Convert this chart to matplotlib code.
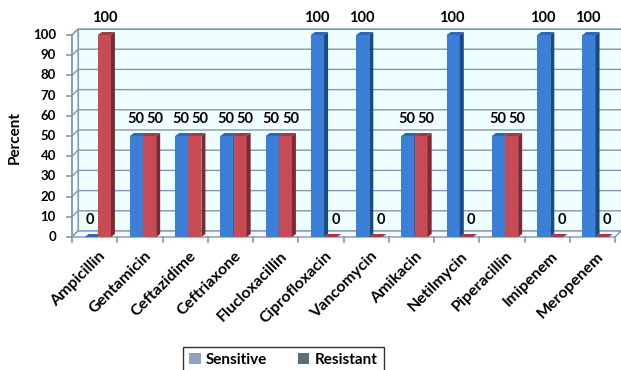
import matplotlib
matplotlib.use("Agg")

import matplotlib.pyplot as plt
from matplotlib.lines import Line2D
from matplotlib.patches import Patch, Polygon, Rectangle
from matplotlib.transforms import IdentityTransform, offset_copy


DRUGS = [
    "Ampicillin", "Gentamicin", "Ceftazidime", "Ceftriaxone",
    "Flucloxacillin", "Ciprofloxacin", "Vancomycin", "Amikacin",
    "Netilmycin", "Piperacillin", "Imipenem", "Meropenem",
]
SENSITIVE = [0, 50, 50, 50, 50, 100, 100, 50, 100, 50, 100, 100]
RESISTANT = [100, 50, 50, 50, 50, 0, 0, 50, 0, 50, 0, 0]
Y_TICKS = list(range(0, 101, 10))

W, H, DPI = 621, 370, 100

# depth of the chart box and of each bar, in pixels
WALL_DX, WALL_DY = 6, 6
BAR_DX, BAR_DY = 4, 3
BAR_W = 0.29
SHIFT = 0.07

GRID = "#8497B0"
WALL = "#EFFEFF"
FLOOR = "#F6F9FC"
BLUE = ("#3C7FD6", "#184A86", "#2E67B5")   # front, side, top
RED = ("#C64B55", "#7B2A32", "#A03B44")

FONT = ["Lato", "DejaVu Sans"]


def main():
    fig = plt.figure(figsize=(W / DPI, H / DPI), dpi=DPI)
    ax = fig.add_axes([72 / W, (H - 237) / H, 543 / W, 202 / H])
    n = len(DRUGS)
    x_lo, x_hi = -0.5, n - 0.5
    ax.set_xlim(x_lo, x_hi)
    ax.set_ylim(0, 100)
    ax.axis("off")

    px = IdentityTransform()

    def front(x, y):
        return ax.transData.transform((x, y))

    def back(x, y, dx=WALL_DX, dy=WALL_DY):
        fx, fy = front(x, y)
        return fx + dx, fy + dy

    # back wall, left wall and floor
    back_tr = offset_copy(ax.transData, fig=fig, x=WALL_DX, y=WALL_DY,
                          units="dots")
    ax.add_patch(Rectangle((x_lo, 0), x_hi - x_lo, 100, transform=back_tr,
                           facecolor=WALL, edgecolor=GRID, lw=0.8,
                           clip_on=False, zorder=0))
    ax.add_patch(Polygon([front(x_lo, 0), front(x_lo, 100),
                          back(x_lo, 100), back(x_lo, 0)],
                         closed=True, transform=px, facecolor=WALL,
                         edgecolor=GRID, lw=0.8, clip_on=False, zorder=0))

    for yv in Y_TICKS:
        pts = [front(x_lo, yv), back(x_lo, yv), back(x_hi, yv)]
        ax.add_line(Line2D([p[0] for p in pts], [p[1] for p in pts],
                           transform=px, color=GRID, lw=1.0,
                           clip_on=False, zorder=0.5))

    ax.add_patch(Polygon([front(x_lo, 0), front(x_hi, 0),
                          back(x_hi, 0), back(x_lo, 0)],
                         closed=True, transform=px, facecolor=FLOOR,
                         edgecolor=GRID, lw=1.0, clip_on=False, zorder=1))

    # value axis and category ticks
    ax.add_line(Line2D([front(x_lo, 0)[0]] * 2,
                       [front(x_lo, 0)[1], front(x_lo, 100)[1]],
                       transform=px, color=GRID, lw=1.2, clip_on=False,
                       zorder=1))
    for yv in Y_TICKS:
        fx, fy = front(x_lo, yv)
        ax.add_line(Line2D([fx - 5, fx], [fy, fy], transform=px, color=GRID,
                           lw=1.2, clip_on=False, zorder=1))
        ax.text(fx - 16, fy, str(yv), transform=px, ha="right", va="center",
                fontsize=9.5, fontweight="bold", family=FONT)
    for i in range(n + 1):
        fx, fy = front(x_lo + i, 0)
        ax.add_line(Line2D([fx, fx], [fy, fy - 5], transform=px, color=GRID,
                           lw=1.2, clip_on=False, zorder=1))

    def box(x0, h, colors):
        face, side, top = colors
        ax.bar(x0, h, BAR_W, align="edge", color=face, lw=0, zorder=3)
        x1 = x0 + BAR_W
        ax.add_patch(Polygon([front(x1, 0), front(x1, h),
                              back(x1, h, BAR_DX, BAR_DY),
                              back(x1, 0, BAR_DX, BAR_DY)],
                             closed=True, transform=px, facecolor=side,
                             lw=0, clip_on=False, zorder=3))
        ax.add_patch(Polygon([front(x0, h), front(x1, h),
                              back(x1, h, BAR_DX, BAR_DY),
                              back(x0, h, BAR_DX, BAR_DY)],
                             closed=True, transform=px, facecolor=top,
                             lw=0, clip_on=False, zorder=3))

    def label(xc, h, dx):
        fx, fy = front(xc, h)
        ax.text(fx + dx, fy + 17, str(h), transform=px, ha="center",
                va="center", fontsize=10.5, fontweight="bold", family=FONT,
                zorder=5)

    for i, (s, r) in enumerate(zip(SENSITIVE, RESISTANT)):
        xs = i + SHIFT - BAR_W
        xr = i + SHIFT
        box(xs, s, BLUE)
        box(xr, r, RED)
        label(xs + BAR_W / 2, s, -1)
        label(xr + BAR_W / 2, r, 5 if r < 100 else 0)

    # rotated category names
    for i, name in enumerate(DRUGS):
        fx, fy = front(i, 0)
        ax.text(fx + 4, fy - 12, name, transform=px, ha="right", va="top",
                rotation=45, rotation_mode="anchor", fontsize=11.5,
                fontweight="bold", family=FONT)

    fig.text(15 / W, 1 - 137 / H, "Percent", rotation=90, ha="center",
             va="center", fontsize=11, fontweight="bold", family=FONT)

    handles = [
        Patch(facecolor="#8FA2BF", label="Sensitive"),
        Patch(facecolor="#5D6B7F", label="Resistant"),
    ]
    leg = fig.legend(handles=handles, loc="upper left",
                     bbox_to_anchor=(183 / W, 1 - 347 / H), ncol=2,
                     frameon=True, fancybox=False, edgecolor="black",
                     handlelength=0.75, handleheight=0.75, handletextpad=0.35,
                     columnspacing=2.0, borderpad=0.4, borderaxespad=0,
                     prop={"family": FONT, "weight": "bold", "size": 11})
    leg.get_frame().set_linewidth(1.0)

    fig.savefig("out.png", dpi=DPI, facecolor="white")
    plt.close(fig)


if __name__ == "__main__":
    main()
